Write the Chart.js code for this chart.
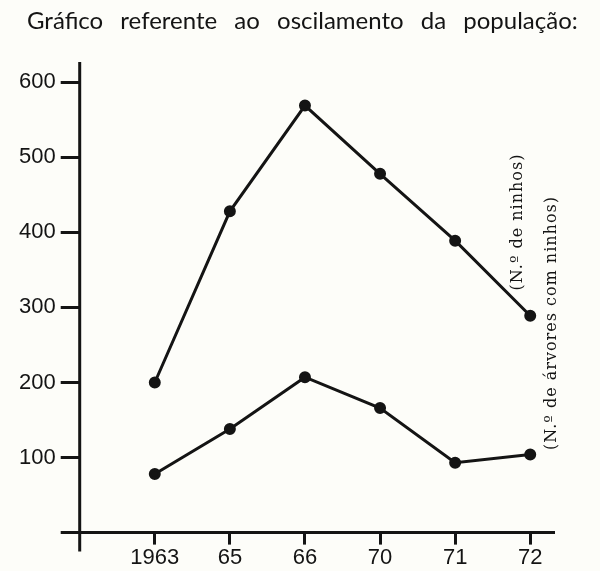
<!DOCTYPE html>
<html>
<head>
<meta charset="utf-8">
<script src="https://cdn.jsdelivr.net/npm/chart.js@4"></script>
<style>
    html, body { margin: 0; padding: 0; background: #fdfdf9; }
    #wrap { width: 600px; height: 571px; }
</style>
</head>
<body>
<div id="wrap"><canvas id="chart"></canvas></div>
<script>
// values
const years = ['1963', '65', '66', '70', '71', '72'];
const ninhos = [200, 428, 569, 478, 389, 289];
const arvores = [78, 138, 207, 166, 93, 104];
const yTicks = [100, 200, 300, 400, 500, 600];

const titleText = 'Gráfico referente ao oscilamento da população:';
const labelNinhos = '(N.º de ninhos)';
const labelArvores = '(N.º de árvores com ninhos)';

const ink = '#141414';

// axes cross each other like in the drawing, plus title and side notes
const decor = {
    id: 'decor',
    afterDraw(chart) {
        const { ctx, chartArea: a } = chart;
        ctx.save();
        ctx.strokeStyle = ink;
        ctx.lineWidth = 3;
        ctx.beginPath();
        ctx.moveTo(a.left, a.top);
        ctx.lineTo(a.left, a.bottom + 19);
        ctx.moveTo(a.left - 19, a.bottom);
        ctx.lineTo(a.right, a.bottom);
        ctx.stroke();

        ctx.fillStyle = ink;
        ctx.font = '24px Lato';
        ctx.textBaseline = 'alphabetic';
        ctx.textAlign = 'left';
        ctx.wordSpacing = '11px';
        ctx.fillText(titleText, 27, 29);
        ctx.wordSpacing = '0px';

        ctx.font = '16px "DejaVu Serif"';
        ctx.letterSpacing = '1px';
        ctx.textAlign = 'center';
        ctx.textBaseline = 'middle';
        ctx.save();
        ctx.translate(a.right - 37, 222);
        ctx.rotate(-Math.PI / 2);
        ctx.fillText(labelNinhos, 0, 0);
        ctx.restore();
        ctx.save();
        ctx.translate(a.right - 3, 323);
        ctx.rotate(-Math.PI / 2);
        ctx.fillText(labelArvores, 0, 0);
        ctx.restore();
        ctx.restore();
    }
};

const line = (vals) => ({
    data: vals.map((v, i) => ({ x: i, y: v })),
    borderColor: ink,
    backgroundColor: ink,
    borderWidth: 3,
    pointRadius: 4.5,
    pointHoverRadius: 4.5,
    tension: 0
});

new Chart(document.getElementById('chart'), {
    type: 'line',
    data: {
        datasets: [line(ninhos), line(arvores)]
    },
    options: {
        responsive: true,
        maintainAspectRatio: false,
        animation: false,
        layout: { padding: { left: 14, right: 45, top: 62, bottom: 0 } },
        plugins: {
            legend: { display: false },
            tooltip: { enabled: false }
        },
        scales: {
            x: {
                type: 'linear',
                min: -1,
                max: 5.33,
                afterBuildTicks: s => { s.ticks = years.map((_, i) => ({ value: i })); },
                ticks: {
                    callback: v => years[v],
                    color: ink,
                    font: { family: '"Liberation Sans", Arial', size: 22 },
                    padding: 0,
                    maxRotation: 0
                },
                grid: { drawOnChartArea: false, tickLength: 12, lineWidth: 3, color: ink },
                border: { display: false }
            },
            y: {
                min: 0,
                max: 627,
                afterBuildTicks: s => { s.ticks = yTicks.map(v => ({ value: v })); },
                ticks: {
                    color: ink,
                    font: { family: '"Liberation Sans", Arial', size: 22 },
                    padding: 5
                },
                grid: { drawOnChartArea: false, tickLength: 19, lineWidth: 3, color: ink },
                border: { display: false }
            }
        }
    },
    plugins: [decor]
});
</script>
</body>
</html>
